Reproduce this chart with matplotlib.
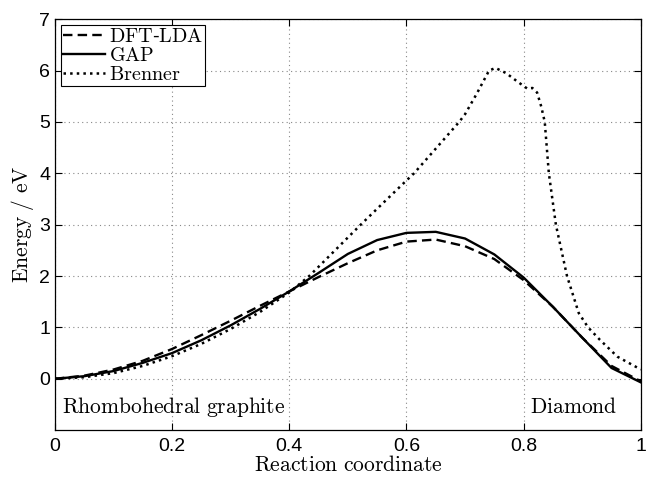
import numpy as np
import matplotlib.pyplot as plt

plt.rcParams['mathtext.fontset'] = 'cm'
plt.rcParams['font.family'] = ['Liberation Sans', 'DejaVu Sans']

# reaction coordinate for the DFT and GAP curves
x_pts = [0.0, 0.05, 0.1, 0.15, 0.2, 0.25, 0.3, 0.35, 0.4, 0.45, 0.5,
         0.55, 0.6, 0.65, 0.7, 0.75, 0.8, 0.85, 0.9, 0.95, 1.0]
dft_lda = [0.0, 0.06, 0.18, 0.35, 0.58, 0.85, 1.13, 1.42, 1.70, 1.98, 2.25,
           2.50, 2.67, 2.71, 2.58, 2.33, 1.92, 1.40, 0.80, 0.25, -0.05]
gap = [0.0, 0.05, 0.15, 0.31, 0.50, 0.75, 1.04, 1.36, 1.70, 2.06, 2.43,
       2.70, 2.84, 2.86, 2.73, 2.42, 1.97, 1.40, 0.80, 0.21, -0.07]

# Brenner is sampled more finely
x_bren = [0.0, 0.05, 0.1, 0.15, 0.2, 0.25, 0.3, 0.35, 0.4, 0.434, 0.45, 0.5,
          0.522, 0.55, 0.6, 0.613, 0.65, 0.69, 0.7, 0.72, 0.741, 0.752, 0.77,
          0.79, 0.806, 0.815, 0.823, 0.83, 0.836, 0.843, 0.855, 0.874, 0.894,
          0.91, 0.93, 0.96, 1.0]
brenner = [0.0, 0.03, 0.11, 0.25, 0.44, 0.68, 0.97, 1.30, 1.68, 2.0, 2.18, 2.75,
           3.0, 3.31, 3.86, 4.0, 4.48, 5.0, 5.15, 5.55, 6.0, 6.05, 5.95,
           5.78, 5.65, 5.66, 5.57, 5.30, 5.0, 4.0, 3.0, 2.0, 1.28,
           1.0, 0.76, 0.43, 0.18]

fig = plt.figure(figsize=(6.46, 4.79), dpi=100)
ax = fig.add_axes([0.085, 0.102, 0.907, 0.858])

ax.plot(x_pts, dft_lda, 'k--', lw=1.7, dashes=(4, 2.2), label=r'$\mathrm{DFT}$-$\mathrm{LDA}$')
ax.plot(x_pts, gap, 'k-', lw=1.7, label=r'$\mathrm{GAP}$')
ax.plot(x_bren, brenner, 'k:', lw=1.8, label=r'$\mathrm{Brenner}$')

ax.set_xlim(0, 1)
ax.set_ylim(-1, 7)
ax.set_xticks([0, 0.2, 0.4, 0.6, 0.8, 1])
ax.set_xticklabels(['0', '0.2', '0.4', '0.6', '0.8', '1'])
ax.set_yticks(range(0, 8))
ax.tick_params(direction='in', top=True, right=True, length=5, labelsize=14)
ax.tick_params(axis='x', pad=6)
ax.grid(True, color='#888888', linestyle=(0, (1, 3)), lw=0.8)

ax.set_xlabel(r'$\mathrm{Reaction\ coordinate}$', fontsize=15.5, labelpad=0)
ax.set_ylabel(r'$\mathrm{Energy\ /\ eV}$', fontsize=15.5, labelpad=2)

ax.text(0.012, -0.55, r'$\mathrm{Rhombohedral\ graphite}$', fontsize=15.5, va='center')
ax.text(0.81, -0.55, r'$\mathrm{Diamond}$', fontsize=15.5, va='center')

leg = ax.legend(loc='upper left', fontsize=14.5, fancybox=False, edgecolor='k',
                framealpha=1, borderpad=0.1, labelspacing=0.0, handlelength=2.1,
                handletextpad=0.2, borderaxespad=0.3)
leg.get_frame().set_linewidth(0.8)

for s in ax.spines.values():
    s.set_linewidth(0.9)

fig.savefig('out.png', dpi=100)
